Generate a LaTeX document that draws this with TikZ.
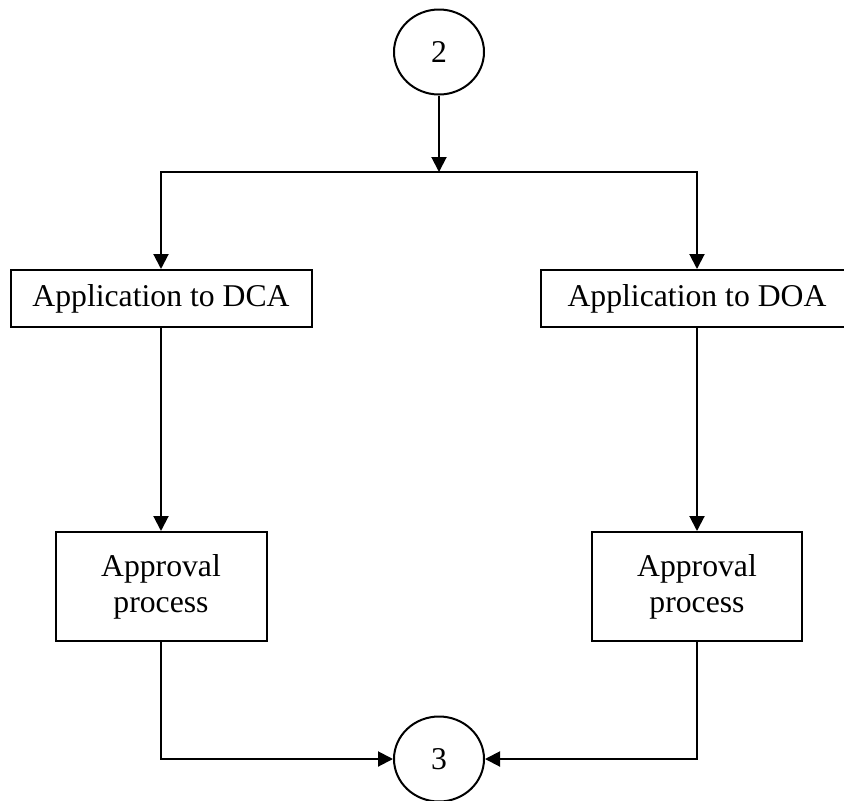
\documentclass[tikz,border=0pt]{standalone}
\usepackage{fontspec}
\setmainfont{Liberation Serif}
\usetikzlibrary{arrows.meta,positioning,shapes.geometric}

\begin{document}
\begin{tikzpicture}[x=1pt,y=-1pt,
  box/.style={draw,line width=2pt,inner sep=0pt,align=center,font=\fontsize{31.7}{36}\selectfont},
  conn/.style={draw,ellipse,line width=2pt,minimum width=90pt,minimum height=85pt,inner sep=0pt,font=\fontsize{31.7}{36}\selectfont},
  flow/.style={line width=2pt,-{Triangle[length=15pt,width=15pt]}}]
  \useasboundingbox (0,0) rectangle (844,801); % page frame
  \node[conn] (c2) at (439,52) {2}; % connector from previous page
  \coordinate (split) at (439,172); % branching point
  \node[box,minimum width=301pt,minimum height=57pt] (dca) at (161,298.5) {Application to DCA};
  \node[box,minimum width=312pt,minimum height=57pt] (doa) at (697,298.5) {Application to DOA}; % runs past the right edge
  \node[box,minimum width=211pt,minimum height=109pt] (appdca) at (161,586.5) {Approval\\process};
  \node[box,minimum width=210pt,minimum height=109pt] (appdoa) at (697,586.5) {Approval\\process};
  \node[conn] (c3) at (439,759) {3}; % connector to next page
  \draw[flow] (c2) -- (split);
  \draw[flow] (split) -| (dca); % left branch
  \draw[flow] (split) -| (doa); % right branch
  \draw[flow] (dca) -- (appdca);
  \draw[flow] (doa) -- (appdoa);
  \draw[flow] (appdca) |- (c3); % join from the left
  \draw[flow] (appdoa) |- (c3); % join from the right
\end{tikzpicture}
\end{document}
